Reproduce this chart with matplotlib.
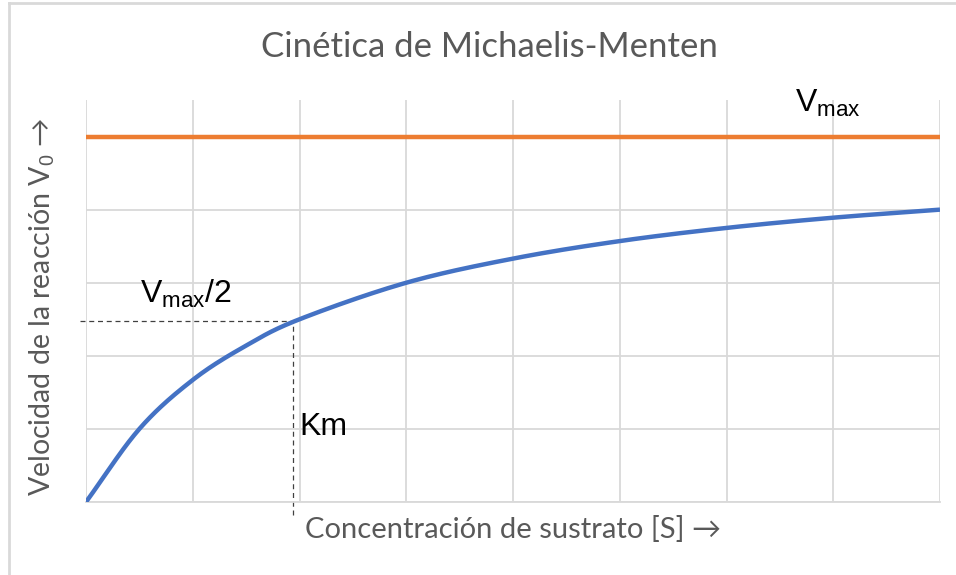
import numpy as np
import matplotlib
matplotlib.use("Agg")
import matplotlib.pyplot as plt
from matplotlib.lines import Line2D

plt.rcParams["mathtext.fontset"] = "custom"
plt.rcParams["mathtext.rm"] = "Liberation Sans"
plt.rcParams["mathtext.it"] = "Liberation Sans"

# Substrate concentration and initial velocity readings
substrate = [0, 0.5, 1, 1.5, 2, 3, 4, 5, 6, 7, 8]
velocity = [0, 1.0, 1.67, 2.14, 2.5, 3.0, 3.33, 3.57, 3.75, 3.89, 4.0]
vmax = 5.0
km_guide = 1.94
half_vmax_guide = 2.47

title = "Cinética de Michaelis-Menten"
xlabel = "Concentración de sustrato [S] →"
ylabel = "Velocidad de la reacción V$_0$ →"

W, H = 956, 575
fig = plt.figure(figsize=(W / 100, H / 100), dpi=100)


def px(x, y):
    return x / W, 1 - y / H


def smooth(xs, ys, n=30):
    """Catmull-Rom spline through the given points."""
    xs = np.asarray(xs, float)
    ys = np.asarray(ys, float)
    P = np.column_stack([xs, ys])
    P = np.vstack([2 * P[0] - P[1], P, 2 * P[-1] - P[-2]])
    out = []
    for i in range(1, len(P) - 2):
        p0, p1, p2, p3 = P[i - 1], P[i], P[i + 1], P[i + 2]
        t = np.linspace(0, 1, n, endpoint=False)[:, None]
        seg = 0.5 * ((2 * p1) + (-p0 + p2) * t + (2 * p0 - 5 * p1 + 4 * p2 - p3) * t ** 2
                     + (-p0 + 3 * p1 - 3 * p2 + p3) * t ** 3)
        out.append(seg)
    out.append(P[-2][None, :])
    out = np.vstack(out)
    return out[:, 0], out[:, 1]


left, right, top, bottom = 86, 940, 100, 502
ax = fig.add_axes([left / W, 1 - bottom / H, (right - left) / W, (bottom - top) / H])
ax.set_xlim(0, 8)
ax.set_ylim(0, 5.5)
ax.set_xticks(np.arange(0, 9, 1))
ax.set_yticks(np.arange(0, 6, 1))
ax.tick_params(length=0, labelbottom=False, labelleft=False)
ax.grid(True, color="#d9d9d9", linewidth=1.3)
ax.set_axisbelow(True)
for s in ["top", "right", "left"]:
    ax.spines[s].set_visible(False)
ax.spines["bottom"].set_color("#d9d9d9")
ax.spines["bottom"].set_linewidth(1.3)

ax.plot([0, 8], [vmax, vmax], color="#ED7D31", linewidth=3.2, solid_capstyle="butt", zorder=3)
sx, sy = smooth(substrate, velocity)
ax.plot(sx, sy, color="#4472C4", linewidth=3.2, solid_capstyle="butt", zorder=3)

# Guide lines for Km and Vmax/2
ax.plot([-0.06, km_guide], [half_vmax_guide, half_vmax_guide], color="#404040",
        linewidth=0.9, linestyle=(0, (4, 3)), clip_on=False, zorder=2)
ax.plot([km_guide, km_guide], [-0.18, half_vmax_guide], color="#404040",
        linewidth=0.9, linestyle=(0, (4, 3)), clip_on=False, zorder=2)

fig.text(*px(489, 47), title, ha="center", va="center", fontsize=25,
         color="#595959", family="Lato")
fig.text(*px(513, 530), xlabel, ha="center", va="center", fontsize=21,
         color="#595959", family="Lato")
fig.text(*px(42, 307), ylabel, ha="center", va="center", fontsize=20.5,
         color="#595959", family="Lato", rotation=90)

fig.text(*px(795, 112), r"V$_{\mathrm{max}}$", ha="left", va="baseline", fontsize=23,
         color="black", family="Liberation Sans")
fig.text(*px(140, 303), r"V$_{\mathrm{max}}$/2", ha="left", va="baseline", fontsize=23,
         color="black", family="Liberation Sans")
fig.text(*px(299, 435), "Km", ha="left", va="baseline", fontsize=23,
         color="black", family="Liberation Sans")

# Chart border (left and top edges)
fig.add_artist(Line2D([8.5 / W, 8.5 / W], [0, 1 - 3 / H], transform=fig.transFigure,
                      color="#d9d9d9", linewidth=2))
fig.add_artist(Line2D([8.5 / W, 1], [1 - 3 / H, 1 - 3 / H], transform=fig.transFigure,
                      color="#d9d9d9", linewidth=2))

fig.savefig("out.png", dpi=100, facecolor="white")
